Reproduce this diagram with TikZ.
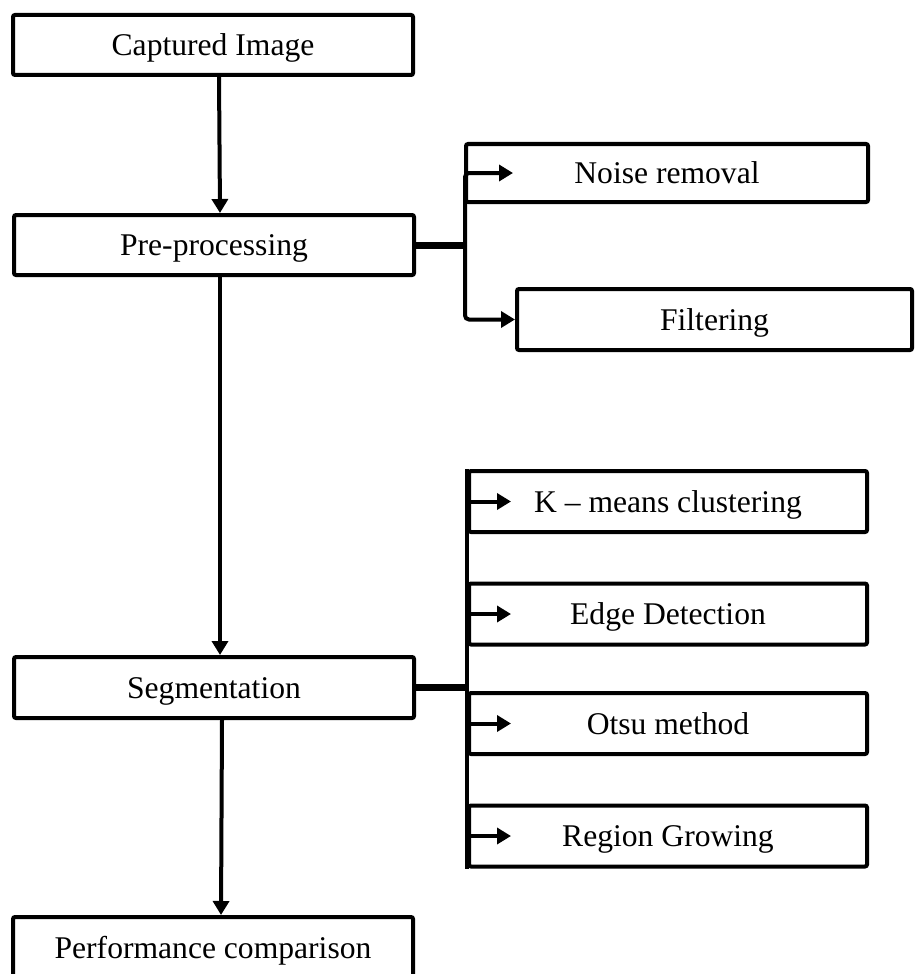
\documentclass[tikz,border=0pt]{standalone}
\usepackage{fontspec}
\setmainfont{Liberation Serif}
\usetikzlibrary{arrows.meta, positioning}

\begin{document}
\begin{tikzpicture}[x=0.5pt, y=-0.5pt,
  blk/.style={rectangle, draw, line width=2pt, rounded corners=1pt, minimum width=200pt,
              minimum height=30pt, inner sep=0pt, align=center, text height=11.5pt, text depth=1pt,
              font=\fontsize{15.8}{19}\selectfont},
  sub/.style={blk, minimum width=199pt, minimum height=30.5pt},
  arr/.style={-{Triangle[length=7pt, width=8pt]}, line width=2pt},
  bus/.style={line width=2pt},
  link/.style={line width=3.5pt}
]
\useasboundingbox (0,0) rectangle (915,974);

\node[blk] (cap) at (213,45) {Captured Image};
\node[blk] (pre) at (214,245) {Pre-processing};
\node[blk, minimum height=30.5pt] (seg) at (214,687.5) {Segmentation};
\node[blk, minimum height=30.5pt] (perf) at (213,947.5) {Performance comparison};

\node[blk, minimum width=201pt, minimum height=29pt] (noise) at (667,173) {Noise removal};
\node[blk, minimum width=197.5pt, minimum height=30.5pt] (filt) at (714.5,319.5) {Filtering};

\node[sub] (km) at (668,501.5) {K -- means clustering};
\node[sub] (ed) at (668,614) {Edge Detection};
\node[sub] (ot) at (668,723.5) {Otsu method};
\node[sub] (rg) at (668,836) {Region Growing};

\draw[arr] ([xshift=3pt]cap.south) -- ([xshift=3pt]pre.north);
\draw[arr] ([xshift=3pt]pre.south) -- ([xshift=3pt]seg.north);
\draw[arr] ([xshift=4pt]seg.south) -- ([xshift=4pt]perf.north);

\coordinate (pj) at (465,245);
\coordinate (nt) at (513,173);
\draw[link] (pre.east) -- (pj);
\draw[arr, rounded corners=2pt] (pj) |- (nt);
\draw[arr, rounded corners=2pt] (pj) |- (filt.west);

\coordinate (sj) at (469,687.5);
\draw[link] (seg.east) -- (sj);
\draw[bus] (km.north west) -- (rg.south west);
\foreach \n in {km,ed,ot,rg}
  \draw[arr] (\n.west) -- ++(44,0);
\end{tikzpicture}
\end{document}
